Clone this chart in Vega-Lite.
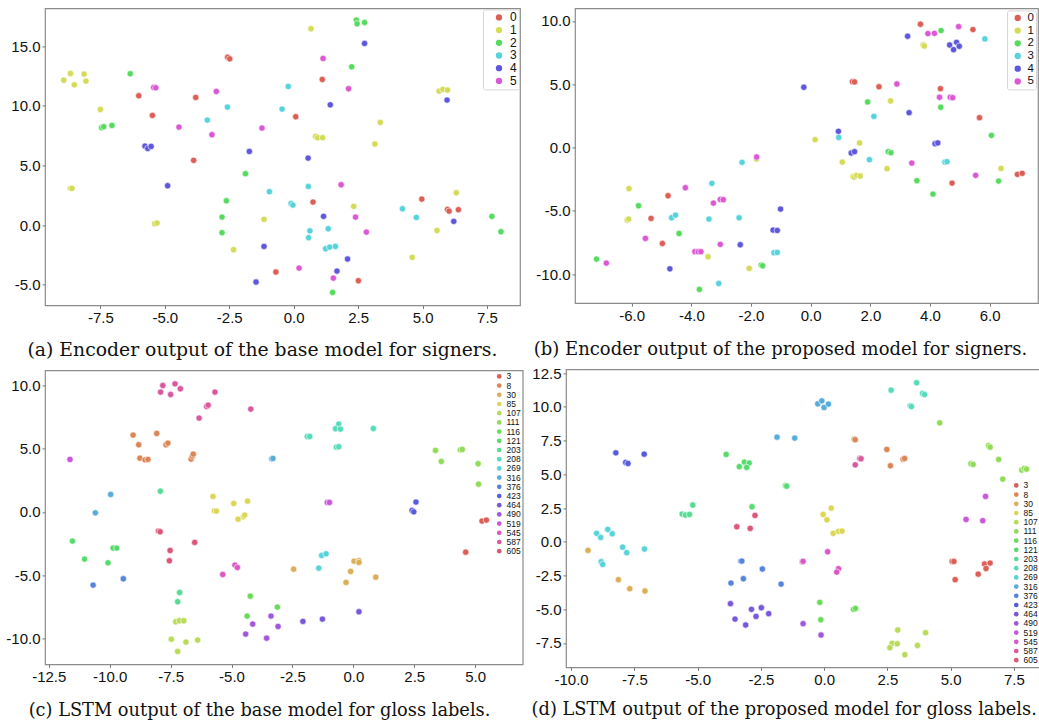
{
"$schema": "https://vega.github.io/schema/vega-lite/v6.json",
"background": "white",
"padding": {"left": 4, "top": 7.4, "right": 0, "bottom": 0},
"columns": 2,
"align": "none",
"spacing": {"row": 5, "column": 0},
"resolve": {"scale": {"color": "independent", "x": "independent", "y": "independent"}, "legend": {"color": "independent"}},
"datasets": {
"a": [
{"x":-2.56,"y":14.09,"s":"0"},{"x":-2.48,"y":13.95,"s":"0"},{"x":-6.01,"y":10.85,"s":"0"},{"x":-3.80,"y":10.71,"s":"0"},{"x":-5.48,"y":9.20,"s":"0"},{"x":-3.88,"y":5.43,"s":"0"},{"x":1.11,"y":12.22,"s":"0"},{"x":0.08,"y":9.09,"s":"0"},{"x":0.75,"y":1.93,"s":"0"},{"x":-0.69,"y":-3.94,"s":"0"},{"x":2.51,"y":-4.67,"s":"0"},{"x":4.97,"y":2.18,"s":"0"},{"x":5.97,"y":1.31,"s":"0"},{"x":6.03,"y":1.17,"s":"0"},{"x":6.39,"y":1.29,"s":"0"},
{"x":-8.92,"y":12.16,"s":"1"},{"x":-8.66,"y":12.72,"s":"1"},{"x":-8.51,"y":11.77,"s":"1"},{"x":-8.13,"y":12.67,"s":"1"},{"x":-8.06,"y":12.08,"s":"1"},{"x":-7.50,"y":9.70,"s":"1"},{"x":-8.66,"y":3.08,"s":"1"},{"x":-8.60,"y":3.08,"s":"1"},{"x":-5.39,"y":0.11,"s":"1"},{"x":-5.30,"y":0.17,"s":"1"},{"x":0.67,"y":16.47,"s":"1"},{"x":0.85,"y":7.44,"s":"1"},{"x":0.93,"y":7.33,"s":"1"},{"x":1.12,"y":7.33,"s":"1"},{"x":3.15,"y":6.80,"s":"1"},{"x":3.36,"y":8.61,"s":"1"},{"x":5.64,"y":11.24,"s":"1"},{"x":5.79,"y":11.38,"s":"1"},{"x":5.97,"y":11.33,"s":"1"},{"x":2.33,"y":1.57,"s":"1"},{"x":-1.15,"y":0.48,"s":"1"},{"x":-2.33,"y":-2.07,"s":"1"},{"x":6.31,"y":2.71,"s":"1"},{"x":5.56,"y":-0.45,"s":"1"},{"x":4.60,"y":-2.71,"s":"1"},
{"x":-6.34,"y":12.70,"s":"2"},{"x":-7.45,"y":8.17,"s":"2"},{"x":-7.37,"y":8.25,"s":"2"},{"x":-7.05,"y":8.36,"s":"2"},{"x":2.43,"y":17.20,"s":"2"},{"x":2.46,"y":16.89,"s":"2"},{"x":2.75,"y":17.00,"s":"2"},{"x":2.25,"y":13.28,"s":"2"},{"x":-1.87,"y":4.31,"s":"2"},{"x":-2.61,"y":2.04,"s":"2"},{"x":-2.78,"y":0.67,"s":"2"},{"x":-2.78,"y":-0.64,"s":"2"},{"x":1.51,"y":-5.65,"s":"2"},{"x":7.69,"y":0.73,"s":"2"},{"x":8.04,"y":-0.56,"s":"2"},
{"x":-0.21,"y":11.63,"s":"3"},{"x":-0.45,"y":9.73,"s":"3"},{"x":-2.57,"y":9.90,"s":"3"},{"x":-3.35,"y":8.81,"s":"3"},{"x":-0.94,"y":2.80,"s":"3"},{"x":0.57,"y":3.24,"s":"3"},{"x":-0.10,"y":1.82,"s":"3"},{"x":-0.03,"y":1.68,"s":"3"},{"x":0.63,"y":-0.48,"s":"3"},{"x":0.58,"y":-1.06,"s":"3"},{"x":1.34,"y":-0.31,"s":"3"},{"x":1.24,"y":-1.99,"s":"3"},{"x":1.40,"y":-1.85,"s":"3"},{"x":1.62,"y":-1.79,"s":"3"},{"x":4.22,"y":1.37,"s":"3"},{"x":4.76,"y":0.64,"s":"3"},
{"x":2.75,"y":15.24,"s":"4"},{"x":1.42,"y":10.09,"s":"4"},{"x":-5.77,"y":6.63,"s":"4"},{"x":-5.66,"y":6.43,"s":"4"},{"x":-5.53,"y":6.60,"s":"4"},{"x":-1.72,"y":6.18,"s":"4"},{"x":0.56,"y":5.62,"s":"4"},{"x":-4.89,"y":3.30,"s":"4"},{"x":1.16,"y":0.73,"s":"4"},{"x":-1.15,"y":-1.79,"s":"4"},{"x":-1.46,"y":-4.78,"s":"4"},{"x":1.68,"y":-3.86,"s":"4"},{"x":2.09,"y":-2.85,"s":"4"},{"x":5.95,"y":10.49,"s":"4"},{"x":6.21,"y":0.31,"s":"4"},
{"x":-5.43,"y":11.55,"s":"5"},{"x":-5.35,"y":11.52,"s":"5"},{"x":-3.00,"y":11.21,"s":"5"},{"x":-4.45,"y":8.22,"s":"5"},{"x":-3.17,"y":7.58,"s":"5"},{"x":-1.23,"y":8.14,"s":"5"},{"x":1.14,"y":13.98,"s":"5"},{"x":2.13,"y":11.44,"s":"5"},{"x":1.84,"y":3.38,"s":"5"},{"x":2.40,"y":0.67,"s":"5"},{"x":2.82,"y":-0.59,"s":"5"},{"x":0.21,"y":-3.61,"s":"5"},{"x":1.54,"y":-4.45,"s":"5"}
],
"b": [
{"x":3.68,"y":9.74,"s":"0"},{"x":5.44,"y":9.32,"s":"0"},{"x":1.40,"y":5.20,"s":"0"},{"x":1.47,"y":5.18,"s":"0"},{"x":2.29,"y":4.80,"s":"0"},{"x":4.35,"y":4.65,"s":"0"},{"x":5.66,"y":2.36,"s":"0"},{"x":-4.78,"y":-3.81,"s":"0"},{"x":-5.35,"y":-5.60,"s":"0"},{"x":-4.97,"y":-7.58,"s":"0"},{"x":4.74,"y":-2.81,"s":"0"},{"x":6.93,"y":-2.12,"s":"0"},{"x":7.09,"y":-2.04,"s":"0"},
{"x":3.77,"y":8.10,"s":"1"},{"x":3.81,"y":8.02,"s":"1"},{"x":2.68,"y":3.68,"s":"1"},{"x":0.15,"y":0.62,"s":"1"},{"x":1.64,"y":0.36,"s":"1"},{"x":1.06,"y":-1.15,"s":"1"},{"x":-1.82,"y":-0.91,"s":"1"},{"x":1.42,"y":-2.28,"s":"1"},{"x":1.46,"y":-2.33,"s":"1"},{"x":1.54,"y":-2.20,"s":"1"},{"x":1.66,"y":-2.25,"s":"1"},{"x":2.56,"y":-1.67,"s":"1"},{"x":6.38,"y":-1.65,"s":"1"},{"x":-6.09,"y":-3.25,"s":"1"},{"x":-6.15,"y":-5.73,"s":"1"},{"x":-6.10,"y":-5.65,"s":"1"},{"x":-3.44,"y":-8.63,"s":"1"},{"x":-2.06,"y":-9.55,"s":"1"},
{"x":4.37,"y":9.24,"s":"2"},{"x":1.91,"y":3.60,"s":"2"},{"x":4.36,"y":3.18,"s":"2"},{"x":6.06,"y":0.96,"s":"2"},{"x":2.60,"y":-0.33,"s":"2"},{"x":2.69,"y":-0.41,"s":"2"},{"x":3.56,"y":-2.62,"s":"2"},{"x":6.30,"y":-2.65,"s":"2"},{"x":4.10,"y":-3.68,"s":"2"},{"x":-5.77,"y":-4.60,"s":"2"},{"x":-4.41,"y":-6.79,"s":"2"},{"x":-7.18,"y":-8.81,"s":"2"},{"x":-1.66,"y":-9.29,"s":"2"},{"x":-1.61,"y":-9.34,"s":"2"},{"x":-3.73,"y":-11.21,"s":"2"},
{"x":5.84,"y":8.58,"s":"3"},{"x":2.12,"y":2.46,"s":"3"},{"x":0.94,"y":0.80,"s":"3"},{"x":1.97,"y":-0.96,"s":"3"},{"x":4.50,"y":-1.15,"s":"3"},{"x":4.57,"y":-1.12,"s":"3"},{"x":-2.30,"y":-1.17,"s":"3"},{"x":-3.31,"y":-2.83,"s":"3"},{"x":-4.66,"y":-5.55,"s":"3"},{"x":-4.53,"y":-5.34,"s":"3"},{"x":-3.41,"y":-5.65,"s":"3"},{"x":-2.40,"y":-5.55,"s":"3"},{"x":-1.23,"y":-8.31,"s":"3"},{"x":-1.12,"y":-8.29,"s":"3"},{"x":-3.08,"y":-10.74,"s":"3"},
{"x":3.25,"y":8.79,"s":"4"},{"x":4.66,"y":8.10,"s":"4"},{"x":4.89,"y":8.31,"s":"4"},{"x":4.98,"y":8.00,"s":"4"},{"x":4.79,"y":7.73,"s":"4"},{"x":-0.23,"y":4.76,"s":"4"},{"x":3.30,"y":2.75,"s":"4"},{"x":0.93,"y":1.28,"s":"4"},{"x":1.36,"y":-0.43,"s":"4"},{"x":1.47,"y":-0.33,"s":"4"},{"x":4.17,"y":0.30,"s":"4"},{"x":4.26,"y":0.36,"s":"4"},{"x":-1.01,"y":-4.86,"s":"4"},{"x":-1.26,"y":-6.52,"s":"4"},{"x":-1.12,"y":-6.55,"s":"4"},{"x":-2.36,"y":-7.68,"s":"4"},{"x":-4.72,"y":-9.58,"s":"4"},
{"x":3.93,"y":9.00,"s":"5"},{"x":4.15,"y":9.02,"s":"5"},{"x":4.96,"y":9.55,"s":"5"},{"x":2.89,"y":5.02,"s":"5"},{"x":4.32,"y":3.97,"s":"5"},{"x":4.68,"y":3.97,"s":"5"},{"x":4.76,"y":3.94,"s":"5"},{"x":3.39,"y":-1.23,"s":"5"},{"x":5.53,"y":-2.20,"s":"5"},{"x":-1.81,"y":-0.75,"s":"5"},{"x":-4.20,"y":-3.18,"s":"5"},{"x":-3.26,"y":-4.39,"s":"5"},{"x":-3.03,"y":-4.10,"s":"5"},{"x":-2.93,"y":-4.12,"s":"5"},{"x":-5.54,"y":-7.18,"s":"5"},{"x":-6.85,"y":-9.13,"s":"5"},{"x":-3.88,"y":-8.23,"s":"5"},{"x":-3.77,"y":-8.23,"s":"5"},{"x":-3.68,"y":-8.23,"s":"5"},{"x":-3.03,"y":-7.65,"s":"5"}
],
"c": [
{"x":-7.82,"y":9.97,"g":"587"},{"x":-7.91,"y":9.45,"g":"587"},{"x":-7.50,"y":9.26,"g":"587"},{"x":-7.32,"y":10.10,"g":"587"},{"x":-7.10,"y":9.71,"g":"587"},{"x":-5.68,"y":9.45,"g":"587"},{"x":-6.02,"y":8.32,"g":"587"},{"x":-5.96,"y":8.42,"g":"587"},{"x":-6.33,"y":7.40,"g":"587"},{"x":-4.21,"y":8.11,"g":"587"},
{"x":-9.04,"y":6.06,"g":"8"},{"x":-8.81,"y":5.30,"g":"8"},{"x":-8.07,"y":6.19,"g":"8"},{"x":-8.76,"y":4.24,"g":"8"},{"x":-8.55,"y":4.11,"g":"8"},{"x":-8.43,"y":4.14,"g":"8"},{"x":-7.69,"y":5.30,"g":"8"},{"x":-7.61,"y":5.43,"g":"8"},{"x":-6.66,"y":4.17,"g":"8"},{"x":-6.61,"y":4.40,"g":"8"},{"x":-6.57,"y":4.56,"g":"8"},
{"x":-11.63,"y":4.14,"g":"519"},{"x":-1.07,"y":0.75,"g":"519"},{"x":-0.98,"y":0.75,"g":"519"},
{"x":-5.36,"y":-4.93,"g":"545"},{"x":-4.86,"y":-4.19,"g":"545"},{"x":-4.76,"y":-4.38,"g":"545"},
{"x":-9.96,"y":1.38,"g":"316"},{"x":-10.59,"y":-0.07,"g":"316"},{"x":-3.35,"y":4.19,"g":"316"},{"x":-3.30,"y":4.22,"g":"316"},
{"x":-10.68,"y":-5.77,"g":"376"},{"x":-9.44,"y":-5.27,"g":"376"},
{"x":-7.92,"y":1.64,"g":"203"},{"x":-7.13,"y":-6.35,"g":"203"},{"x":-7.21,"y":-7.08,"g":"203"},
{"x":-1.89,"y":5.95,"g":"208"},{"x":-1.79,"y":5.95,"g":"208"},{"x":-0.60,"y":6.93,"g":"208"},{"x":-0.73,"y":6.56,"g":"208"},{"x":-0.53,"y":6.53,"g":"208"},{"x":0.82,"y":6.58,"g":"208"},{"x":-0.70,"y":5.11,"g":"208"},{"x":-0.60,"y":5.14,"g":"208"},
{"x":-1.42,"y":-4.43,"g":"269"},{"x":-1.30,"y":-3.43,"g":"269"},{"x":-1.12,"y":-3.30,"g":"269"},
{"x":-11.53,"y":-2.30,"g":"121"},{"x":-11.03,"y":-3.72,"g":"121"},{"x":-10.07,"y":-4.01,"g":"121"},{"x":-9.86,"y":-2.85,"g":"121"},{"x":-9.71,"y":-2.85,"g":"121"},
{"x":-5.76,"y":1.22,"g":"85"},{"x":-5.70,"y":0.09,"g":"85"},{"x":-5.62,"y":0.07,"g":"85"},{"x":-4.91,"y":0.67,"g":"85"},{"x":-4.34,"y":0.85,"g":"85"},{"x":-4.73,"y":-0.57,"g":"85"},{"x":-4.51,"y":-0.38,"g":"85"},{"x":-4.46,"y":-0.25,"g":"85"},
{"x":-2.45,"y":-4.51,"g":"30"},{"x":-0.30,"y":-5.56,"g":"30"},{"x":-0.11,"y":-4.69,"g":"30"},{"x":0.03,"y":-3.88,"g":"30"},{"x":0.23,"y":-3.85,"g":"30"},{"x":0.23,"y":-3.98,"g":"30"},{"x":0.92,"y":-5.14,"g":"30"},
{"x":-8.00,"y":-1.51,"g":"605"},{"x":-7.93,"y":-1.56,"g":"605"},{"x":-7.52,"y":-3.04,"g":"605"},{"x":-7.55,"y":-3.85,"g":"605"},{"x":-6.51,"y":-2.40,"g":"605"},
{"x":5.28,"y":-0.72,"g":"3"},{"x":5.46,"y":-0.64,"g":"3"},{"x":4.61,"y":-3.17,"g":"3"},
{"x":-7.29,"y":-8.66,"g":"107"},{"x":-7.14,"y":-8.58,"g":"107"},{"x":-6.96,"y":-8.58,"g":"107"},{"x":-7.47,"y":-10.03,"g":"107"},{"x":-6.87,"y":-10.26,"g":"107"},{"x":-6.39,"y":-10.10,"g":"107"},{"x":-7.21,"y":-11.0,"g":"107"},
{"x":3.37,"y":4.85,"g":"111"},{"x":3.61,"y":3.98,"g":"111"},{"x":4.39,"y":4.90,"g":"111"},{"x":4.47,"y":4.93,"g":"111"},{"x":5.12,"y":3.80,"g":"111"},{"x":5.14,"y":2.19,"g":"111"},
{"x":-4.23,"y":-6.64,"g":"116"},{"x":-4.36,"y":-8.21,"g":"116"},{"x":-3.12,"y":-7.50,"g":"116"},
{"x":-4.13,"y":-8.84,"g":"490"},{"x":-4.42,"y":-9.63,"g":"490"},{"x":-3.38,"y":-8.21,"g":"490"},{"x":-3.09,"y":-9.03,"g":"490"},{"x":-3.56,"y":-9.95,"g":"490"},
{"x":-2.07,"y":-8.63,"g":"464"},{"x":-1.27,"y":-8.45,"g":"464"},{"x":0.23,"y":-7.87,"g":"464"},
{"x":2.41,"y":0.12,"g":"423"},{"x":2.48,"y":0.01,"g":"423"},{"x":2.57,"y":0.78,"g":"423"}
],
"d": [
{"x":-8.23,"y":6.59,"g":"423"},{"x":-7.84,"y":5.88,"g":"423"},{"x":-7.75,"y":5.80,"g":"423"},{"x":-7.11,"y":6.49,"g":"423"},
{"x":-8.99,"y":0.62,"g":"269"},{"x":-8.83,"y":0.32,"g":"269"},{"x":-8.55,"y":0.91,"g":"269"},{"x":-8.37,"y":0.59,"g":"269"},{"x":-7.96,"y":-0.40,"g":"269"},{"x":-7.80,"y":-0.81,"g":"269"},{"x":-7.10,"y":-0.54,"g":"269"},{"x":-8.81,"y":-1.48,"g":"269"},{"x":-8.75,"y":-1.68,"g":"269"},
{"x":-9.33,"y":-0.64,"g":"30"},{"x":-8.13,"y":-2.81,"g":"30"},{"x":-7.68,"y":-3.48,"g":"30"},{"x":-7.08,"y":-3.65,"g":"30"},
{"x":-5.61,"y":2.05,"g":"203"},{"x":-5.48,"y":1.98,"g":"203"},{"x":-5.32,"y":2.02,"g":"203"},{"x":-5.19,"y":2.72,"g":"203"},
{"x":-3.87,"y":6.47,"g":"121"},{"x":-3.35,"y":5.56,"g":"121"},{"x":-3.15,"y":5.90,"g":"121"},{"x":-2.96,"y":5.83,"g":"121"},{"x":-3.06,"y":5.51,"g":"121"},{"x":-1.52,"y":4.15,"g":"121"},{"x":-1.48,"y":4.12,"g":"121"},{"x":-2.85,"y":2.59,"g":"121"},
{"x":-2.73,"y":1.95,"g":"605"},{"x":-3.45,"y":1.11,"g":"605"},{"x":-2.92,"y":0.99,"g":"605"},
{"x":-1.86,"y":7.75,"g":"316"},{"x":-1.16,"y":7.68,"g":"316"},{"x":-0.25,"y":10.22,"g":"316"},{"x":-0.09,"y":10.44,"g":"316"},{"x":0.00,"y":9.95,"g":"316"},{"x":0.17,"y":10.20,"g":"316"},
{"x":-3.29,"y":-1.43,"g":"376"},{"x":-3.25,"y":-1.43,"g":"376"},{"x":-3.68,"y":-3.06,"g":"376"},{"x":-3.19,"y":-2.74,"g":"376"},{"x":-2.44,"y":-2.02,"g":"376"},{"x":-1.70,"y":-3.14,"g":"376"},
{"x":-3.70,"y":-4.59,"g":"464"},{"x":-3.52,"y":-5.73,"g":"464"},{"x":-3.10,"y":-6.17,"g":"464"},{"x":-2.87,"y":-5.01,"g":"464"},{"x":-2.69,"y":-5.53,"g":"464"},{"x":-2.48,"y":-4.89,"g":"464"},{"x":-2.19,"y":-5.33,"g":"464"},
{"x":-0.83,"y":-6.07,"g":"490"},{"x":-0.12,"y":-6.91,"g":"490"},
{"x":-0.86,"y":-1.48,"g":"545"},{"x":-0.83,"y":-1.45,"g":"545"},{"x":0.14,"y":-0.74,"g":"545"},{"x":0.57,"y":-2.0,"g":"545"},{"x":0.50,"y":-2.25,"g":"545"},
{"x":6.38,"y":3.36,"g":"519"},{"x":5.61,"y":1.65,"g":"519"},{"x":6.27,"y":1.56,"g":"519"},
{"x":-0.04,"y":2.02,"g":"85"},{"x":0.28,"y":2.49,"g":"85"},{"x":0.11,"y":1.63,"g":"85"},{"x":0.36,"y":0.62,"g":"85"},{"x":0.57,"y":0.77,"g":"85"},{"x":0.71,"y":0.79,"g":"85"},
{"x":1.19,"y":7.60,"g":"8"},{"x":1.23,"y":7.56,"g":"8"},{"x":2.48,"y":6.84,"g":"8"},{"x":2.62,"y":5.63,"g":"8"},{"x":3.12,"y":6.12,"g":"8"},{"x":3.18,"y":6.17,"g":"8"},
{"x":1.41,"y":6.17,"g":"587"},{"x":1.46,"y":6.15,"g":"587"},{"x":1.23,"y":5.70,"g":"587"},
{"x":2.65,"y":11.23,"g":"208"},{"x":3.66,"y":11.78,"g":"208"},{"x":3.89,"y":10.99,"g":"208"},{"x":3.97,"y":10.91,"g":"208"},{"x":3.40,"y":10.07,"g":"208"},{"x":3.45,"y":10.02,"g":"208"},
{"x":4.57,"y":8.81,"g":"111"},{"x":6.50,"y":7.11,"g":"111"},{"x":6.56,"y":7.01,"g":"111"},{"x":6.90,"y":6.10,"g":"111"},{"x":5.80,"y":5.78,"g":"111"},{"x":5.89,"y":5.73,"g":"111"},{"x":7.06,"y":4.64,"g":"111"},{"x":7.81,"y":5.31,"g":"111"},{"x":7.91,"y":5.43,"g":"111"},{"x":8.00,"y":5.38,"g":"111"},
{"x":5.06,"y":-1.46,"g":"3"},{"x":5.13,"y":-1.46,"g":"3"},{"x":5.18,"y":-2.81,"g":"3"},{"x":6.34,"y":-1.65,"g":"3"},{"x":6.40,"y":-1.98,"g":"3"},{"x":6.56,"y":-1.58,"g":"3"},{"x":6.09,"y":-2.40,"g":"3"},
{"x":2.91,"y":-6.54,"g":"107"},{"x":4.01,"y":-6.74,"g":"107"},{"x":2.69,"y":-7.53,"g":"107"},{"x":2.89,"y":-7.56,"g":"107"},{"x":2.60,"y":-7.85,"g":"107"},{"x":3.69,"y":-7.68,"g":"107"},{"x":3.19,"y":-8.37,"g":"107"},
{"x":-0.17,"y":-4.49,"g":"116"},{"x":-0.13,"y":-5.78,"g":"116"},{"x":1.16,"y":-5.01,"g":"116"},{"x":1.24,"y":-4.94,"g":"116"}
]
},
"concat": [
{
"data": {"name": "a"},
"width": 475, "height": 297,
"mark": {"type": "circle", "size": 40, "opacity": 1, "stroke": "white", "strokeWidth": 0.6},
"encoding": {
"x": {"field": "x", "type": "quantitative", "scale": {"domain": [-9.647, 8.78], "nice": false, "zero": false},
 "axis": {"values": [-7.5, -5, -2.5, 0, 2.5, 5, 7.5], "format": ".1f", "labelExpr": "replace(datum.label, '−', '-')", "labelFlush": false,
 "title": "(a) Encoder output of the base model for signers.", "titleFontSize": 18.8, "titleX": 217, "titleY": 44, "titleBaseline": "middle", "titleAlign": "center"}},
"y": {"field": "y", "type": "quantitative", "scale": {"domain": [-6.74, 18.18], "nice": false, "zero": false},
 "axis": {"values": [-5, 0, 5, 10, 15], "format": ".1f", "labelExpr": "replace(datum.label, '−', '-')", "labelFlush": false, "title": null, "minExtent": 40}},
"color": {"field": "s", "type": "nominal",
 "scale": {"domain": ["0","1","2","3","4","5"], "range": ["#db5f57","#d3db57","#57db5f","#57d3db","#5f57db","#db57d3"]},
 "legend": {"title": null, "orient": "top-right", "offset": 1, "padding": 2, "strokeColor": "#d6d6d6", "fillColor": "white", "cornerRadius": 2, "labelFontSize": 12, "rowPadding": 0.7, "symbolSize": 40, "symbolOffset": 8, "labelOffset": 5, "symbolStrokeWidth": 0, "labelExpr": "datum.label + '\u2002\u2002'"}}
}
},
{
"data": {"name": "b"},
"width": 463, "height": 294.7,
"mark": {"type": "circle", "size": 40, "opacity": 1, "stroke": "white", "strokeWidth": 0.6},
"encoding": {
"x": {"field": "x", "type": "quantitative", "scale": {"domain": [-7.90, 7.62], "nice": false, "zero": false},
 "axis": {"values": [-6, -4, -2, 0, 2, 4, 6], "format": ".1f", "labelExpr": "replace(datum.label, '−', '-')", "labelFlush": false,
 "title": "(b) Encoder output of the proposed model for signers.", "titleFontSize": 18, "titleX": 205, "titleY": 46.3, "titleBaseline": "middle", "titleAlign": "center"}},
"y": {"field": "y", "type": "quantitative", "scale": {"domain": [-12.29, 10.99], "nice": false, "zero": false},
 "axis": {"values": [-10, -5, 0, 5, 10], "format": ".1f", "labelExpr": "replace(datum.label, '−', '-')", "labelFlush": false, "title": null, "minExtent": 50}},
"color": {"field": "s", "type": "nominal",
 "scale": {"domain": ["0","1","2","3","4","5"], "range": ["#db5f57","#d3db57","#57db5f","#57d3db","#5f57db","#db57d3"]},
 "legend": {"title": null, "orient": "top-right", "offset": 2, "padding": 2, "strokeColor": "#d6d6d6", "fillColor": "white", "cornerRadius": 2, "labelFontSize": 11.5, "clipHeight": 11, "rowPadding": 0.7, "symbolSize": 40, "symbolOffset": 3, "labelOffset": 4, "symbolStrokeWidth": 0, "labelExpr": "datum.label + '\u2002'"}}
}
},
{
"data": {"name": "c"},
"title": {"text": " ", "fontSize": 1, "offset": 3},
"width": 477.7, "height": 294,
"mark": {"type": "circle", "size": 40, "opacity": 1, "stroke": "white", "strokeWidth": 0.6},
"encoding": {
"x": {"field": "x", "type": "quantitative", "scale": {"domain": [-12.655, 6.95], "nice": false, "zero": false},
 "axis": {"values": [-12.5, -10, -7.5, -5, -2.5, 0, 2.5, 5], "format": ".1f", "labelExpr": "replace(datum.label, '−', '-')", "labelFlush": false,
 "title": "(c) LSTM output of the base model for gloss labels.", "titleFontSize": 17.8, "titleX": 214, "titleY": 46.2, "titleBaseline": "middle", "titleAlign": "center"}},
"y": {"field": "y", "type": "quantitative", "scale": {"domain": [-12.02, 11.16], "nice": false, "zero": false},
 "axis": {"values": [-10, -5, 0, 5, 10], "format": ".1f", "labelExpr": "replace(datum.label, '−', '-')", "labelFlush": false, "title": null, "minExtent": 40}},
"color": {"field": "g", "type": "nominal",
 "scale": {"domain": ["3","8","30","85","107","111","116","121","203","208","269","316","376","423","464","490","519","545","587","605"],
 "range": ["#db5f57","#db8657","#dbae57","#dbd657","#b9db57","#91db57","#69db57","#57db6c","#57db94","#57dbbb","#57d3db","#57acdb","#5784db","#575cdb","#7957db","#a157db","#c957db","#db57c6","#db579e","#db5777"]},
 "legend": {"title": null, "orient": "top-right", "offset": 1, "padding": 1, "labelFontSize": 8.5, "clipHeight": 8, "rowPadding": 0.2, "symbolSize": 22, "labelOffset": 3, "symbolStrokeWidth": 0}}
}
},
{
"data": {"name": "d"},
"width": 473.7, "height": 298,
"mark": {"type": "circle", "size": 40, "opacity": 1, "stroke": "white", "strokeWidth": 0.6},
"encoding": {
"x": {"field": "x", "type": "quantitative", "scale": {"domain": [-10.20, 8.52], "nice": false, "zero": false},
 "axis": {"values": [-10, -7.5, -5, -2.5, 0, 2.5, 5, 7.5], "format": ".1f", "labelExpr": "replace(datum.label, '−', '-')", "labelFlush": false,
 "title": "(d) LSTM output of the proposed model for gloss labels.", "titleFontSize": 17.8, "titleX": 217.7, "titleY": 42.2, "titleBaseline": "middle", "titleAlign": "center"}},
"y": {"field": "y", "type": "quantitative", "scale": {"domain": [-9.31, 12.77], "nice": false, "zero": false},
 "axis": {"values": [-7.5, -5, -2.5, 0, 2.5, 5, 7.5, 10, 12.5], "format": ".1f", "labelExpr": "replace(datum.label, '−', '-')", "labelFlush": false, "title": null, "minExtent": 41.3}},
"color": {"field": "g", "type": "nominal",
 "scale": {"domain": ["3","8","30","85","107","111","116","121","203","208","269","316","376","423","464","490","519","545","587","605"],
 "range": ["#db5f57","#db8657","#dbae57","#dbd657","#b9db57","#91db57","#69db57","#57db6c","#57db94","#57dbbb","#57d3db","#57acdb","#5784db","#575cdb","#7957db","#a157db","#c957db","#db57c6","#db579e","#db5777"]},
 "legend": {"title": null, "orient": "bottom-right", "offset": 1, "padding": 1, "labelFontSize": 8.5, "clipHeight": 8, "rowPadding": 0.2, "symbolSize": 22, "labelOffset": 3, "symbolStrokeWidth": 0}}
}
}
],
"config": {
"font": "Liberation Sans",
"view": {"stroke": "#8c8c8c", "strokeWidth": 1.2},
"axis": {"domain": false, "grid": false, "tickSize": 3, "tickColor": "#777777", "tickWidth": 1, "labelFont": "Liberation Sans", "labelFontSize": 15, "labelColor": "#111111", "labelPadding": 2, "titleFont": "DejaVu Serif", "titleFontSize": 18, "titleFontWeight": "normal", "titleColor": "#111111"},
"legend": {"labelFont": "Liberation Sans", "labelColor": "#111111"}
}
}
